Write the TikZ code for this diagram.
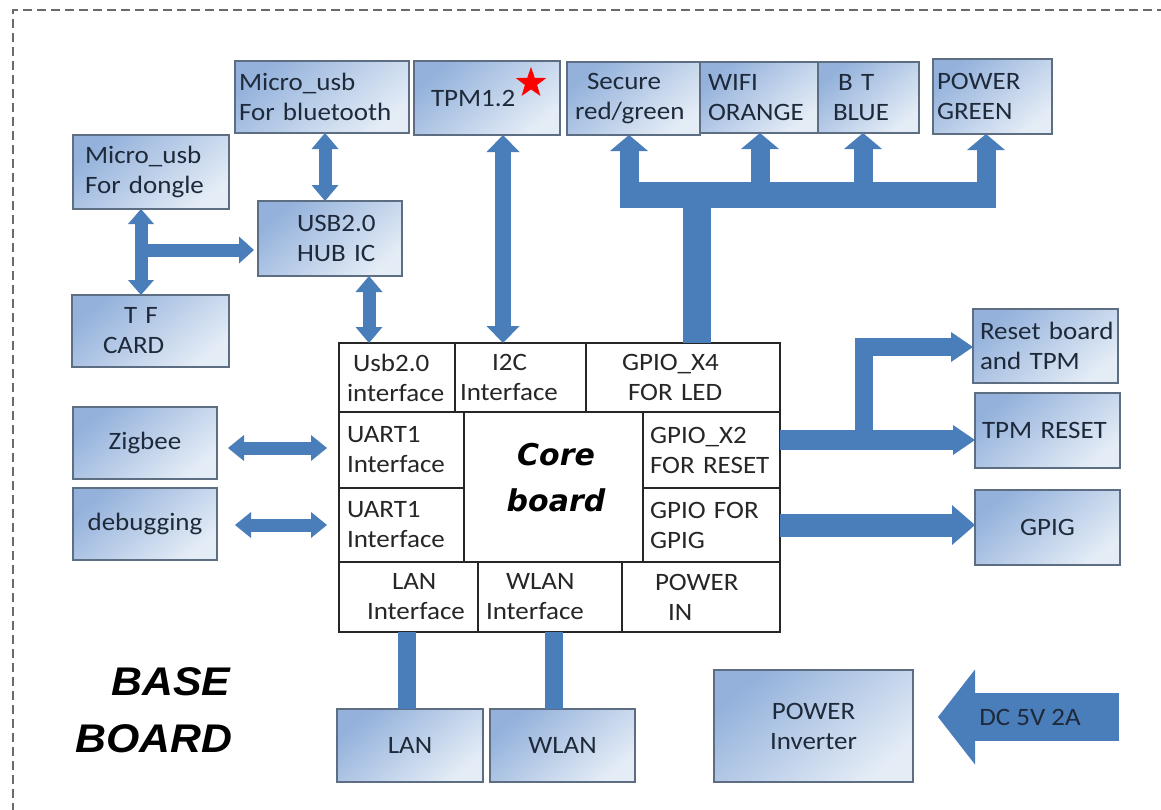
\documentclass[tikz,border=0pt]{standalone}
\usepackage{fontspec}
\setmainfont{Carlito}[FakeStretch=1.08]
\newfontfamily\corefont{DejaVu Sans}[BoldItalicFont={DejaVu Sans Bold Oblique}]
\newfontfamily\basefont{Liberation Sans}[FakeStretch=1.07]
\usetikzlibrary{arrows.meta,shapes.geometric}
\definecolor{boxtop}{HTML}{93B1DB}
\definecolor{boxbot}{HTML}{E4ECF6}
\definecolor{boxline}{HTML}{5E6E82}
\definecolor{arrowblue}{HTML}{4A7EBB}
\definecolor{txt}{HTML}{1E2A3A}
\definecolor{framegray}{HTML}{6A6A6A}
\begin{document}
\begin{tikzpicture}[x=1pt,y=-1pt,
  font=\fontsize{25}{30}\selectfont,
  box/.style={draw=boxline, line width=1.3pt, top color=boxtop, bottom color=boxbot,
    shading angle=40, anchor=north west, inner xsep=4pt, inner ysep=0pt, outer sep=0pt,
    text=txt, align=left},
  cell/.style={draw=black!85, line width=1.3pt, fill=white, anchor=north west,
    inner xsep=4pt, inner ysep=0pt, outer sep=0pt, text=black!85, align=left},
  sz/.style n args={3}{minimum width=#1pt, minimum height=#2pt, text width=#3pt},
  dbl/.style n args={3}{draw=arrowblue, line width=#1pt,
    arrows={Triangle[width=#2pt,length=#3pt,line width=0pt]-Triangle[width=#2pt,length=#3pt,line width=0pt]}},
  sgl/.style n args={3}{draw=arrowblue, line width=#1pt,
    arrows={-Triangle[width=#2pt,length=#3pt,line width=0pt]}},
  bar/.style={draw=arrowblue, line width=#1pt}
]
\fill[white] (0,0) rectangle (1161,809);
\useasboundingbox (0,0) rectangle (1161,809);
\draw[framegray, line width=1.6pt, dash pattern=on 9pt off 5pt] (13,812) -- (13,10) -- (1165,10);

% outer boxes
\node[box, sz={174}{72}{166}] (btusb) at (235,61) {Micro\_usb\\For bluetooth};
\node[box, sz={146}{74}{138}] (tpm) at (414,61) {\hspace*{13pt}TPM1.2};
\node[star, star points=5, star point ratio=2.5, fill=red, minimum size=32pt, inner sep=0pt] (star) at (531,83) {};
\node[box, sz={133}{73}{125}] (secure) at (567,62) {\hspace*{16pt}Secure\\\hspace*{4pt}red/green};
\node[box, sz={118}{71}{110}] (wifi) at (700,62) {\hspace*{4pt}WIFI\\\hspace*{4pt}ORANGE};
\node[box, sz={101}{71}{93}] (bt) at (818,62) {\hspace*{16pt}B T\\\hspace*{11pt}BLUE};
\node[box, sz={119}{75}{111}] (pwrgreen) at (933,59) {POWER\\GREEN};
\node[box, sz={156}{74}{148}] (dongle) at (73,135) {\hspace*{8pt}Micro\_usb\\\hspace*{8pt}For dongle};
\node[box, sz={144}{75}{136}] (hub) at (258,201) {\hspace*{35pt}USB2.0\\\hspace*{35pt}HUB IC};
\node[box, sz={157}{72}{149}] (tf) at (72,295) {\hspace*{48pt}T F\\\hspace*{27pt}CARD};
\node[box, sz={144}{72}{136}, align=center] (zigbee) at (73,407) {Zigbee};
\node[box, sz={144}{72}{136}, align=center] (debug) at (73,488) {debugging};
\node[box, sz={145}{74}{137}] (resetb) at (973,309) {\hspace*{3pt}Reset board\\\hspace*{3pt}and TPM};
\node[box, sz={145}{75}{137}] (tpmrst) at (975,393) {\hspace*{3pt}TPM RESET};
\node[box, sz={145}{75}{137}, align=center] (gpig) at (975,490) {GPIG};
\node[box, sz={146}{73}{138}, align=center] (lan) at (337,709) {LAN};
\node[box, sz={145}{73}{137}, align=center] (wlan) at (490,709) {WLAN};
\node[box, sz={199}{112}{191}, align=center] (inv) at (714,670) {POWER\\Inverter};

% core board cells
\node[cell, sz={116}{69}{108}] (c_usb) at (339,343) {\hspace*{10pt}Usb2.0\\\hspace*{4pt}interface};
\node[cell, sz={131}{69}{123}] (c_i2c) at (455,343) {\hspace*{33pt}I2C\\\hspace*{1pt}Interface};
\node[cell, sz={194}{69}{186}] (c_gpio4) at (586,343) {\hspace*{32pt}GPIO\_X4\\\hspace*{38pt}FOR LED};
\node[cell, sz={125}{76}{117}] (c_uart1) at (339,412) {\hspace*{4pt}UART1\\\hspace*{4pt}Interface};
\node[cell, sz={125}{74}{117}] (c_uart2) at (339,488) {\hspace*{4pt}UART1\\\hspace*{4pt}Interface};
\node[cell, sz={179}{150}{171}] (c_core) at (464,412) {};
\node[font=\corefont\bfseries\itshape\fontsize{30}{46}\selectfont, align=center, text=black] (corelabel) at (556,478) {Core\\board};
\node[cell, sz={137}{76}{129}] (c_gpio2) at (643,412) {\hspace*{3pt}GPIO\_X2\\\hspace*{3pt}FOR RESET};
\node[cell, sz={137}{74}{129}] (c_gpiog) at (643,488) {\hspace*{3pt}GPIO FOR\\\hspace*{3pt}GPIG};
\node[cell, sz={139}{70}{131}] (c_lan) at (339,562) {\hspace*{49pt}LAN\\\hspace*{24pt}Interface};
\node[cell, sz={144}{70}{136}] (c_wlan) at (478,562) {\hspace*{24pt}WLAN\\\hspace*{4pt}Interface};
\node[cell, sz={158}{70}{150}] (c_pwr) at (622,562) {\hspace*{29pt}POWER\\\hspace*{42pt}IN};

\node[font=\basefont\bfseries\itshape\fontsize{40}{57}\selectfont, align=left, text=black] (base) at (154,710) {\hspace*{36pt}BASE\\BOARD};

% helper coordinates
\coordinate (xdongle) at (141,0);
\coordinate (ybranch) at (0,250);
\coordinate (xbt) at (325,0);
\coordinate (xhub) at (369,0);
\coordinate (xtpm) at (503,0);
\coordinate (trunkx) at (697,0);
\coordinate (busy) at (0,195);
\coordinate (xbranch) at (864,0);
\coordinate (yreset) at (0,440);
\coordinate (yresetb) at (0,347);
\coordinate (ygpig) at (0,525);
\coordinate (yzig) at (0,448);
\coordinate (ydbg) at (0,525);
\coordinate (xlan) at (407,0);
\coordinate (xwlan) at (554,0);
\coordinate (dctail) at (1119,717);

% connectors
\draw[dbl={13}{26}{15}] (dongle.south -| xdongle) -- (tf.north -| xdongle);
\draw[sgl={13}{27}{15}, shorten >=4pt] (xdongle |- ybranch) -- (hub.west |- ybranch);
\draw[dbl={13}{27}{16}] (btusb.south -| xbt) -- (hub.north -| xbt);
\draw[dbl={13}{27}{16}] (hub.south -| xhub) -- (c_usb.north -| xhub);
\draw[dbl={16}{33}{17}] (tpm.south -| xtpm) -- (c_i2c.north -| xtpm);

\draw[bar=28] (c_gpio4.north -| trunkx) -- (trunkx |- busy);
\draw[bar=26] ([xshift=-14pt]secure.south |- busy) -- ([xshift=3pt]pwrgreen.south |- busy);
\draw[sgl={19}{38}{16}] ([xshift=-4.5pt]secure.south |- busy) -- ([xshift=-4.5pt]secure.south);
\draw[sgl={19}{38}{16}] ([xshift=1pt]wifi.south |- busy) -- ([xshift=1pt]wifi.south);
\draw[sgl={19}{38}{16}] ([xshift=-5.5pt]bt.south |- busy) -- ([xshift=-5.5pt]bt.south);
\draw[sgl={19}{38}{16}] ([xshift=-6.5pt]pwrgreen.south |- busy) -- ([xshift=-6.5pt]pwrgreen.south);

\draw[sgl={20}{30}{22}] (c_gpio2.east |- yreset) -- (tpmrst.west |- yreset);
\draw[sgl={18}{30}{22}] (xbranch |- yreset) -- (xbranch |- yresetb) -- (resetb.west |- yresetb);
\draw[sgl={23}{40}{23}] (c_gpiog.east |- ygpig) -- (gpig.west |- ygpig);

\draw[dbl={13}{26}{16}, shorten <=11pt, shorten >=12pt] (zigbee.east |- yzig) -- (c_uart1.west |- yzig);
\draw[dbl={13}{26}{16}, shorten <=18pt, shorten >=12pt] (debug.east |- ydbg) -- (c_uart2.west |- ydbg);

\draw[bar=18] (c_lan.south -| xlan) -- (lan.north -| xlan);
\draw[bar=18] (c_wlan.south -| xwlan) -- (wlan.north -| xwlan);

\draw[sgl={48}{95}{37}, shorten >=25pt] (dctail) -- (inv.east |- dctail);
\node[text=txt] (dclabel) at (1030,717) {DC 5V 2A};
\end{tikzpicture}
\end{document}
